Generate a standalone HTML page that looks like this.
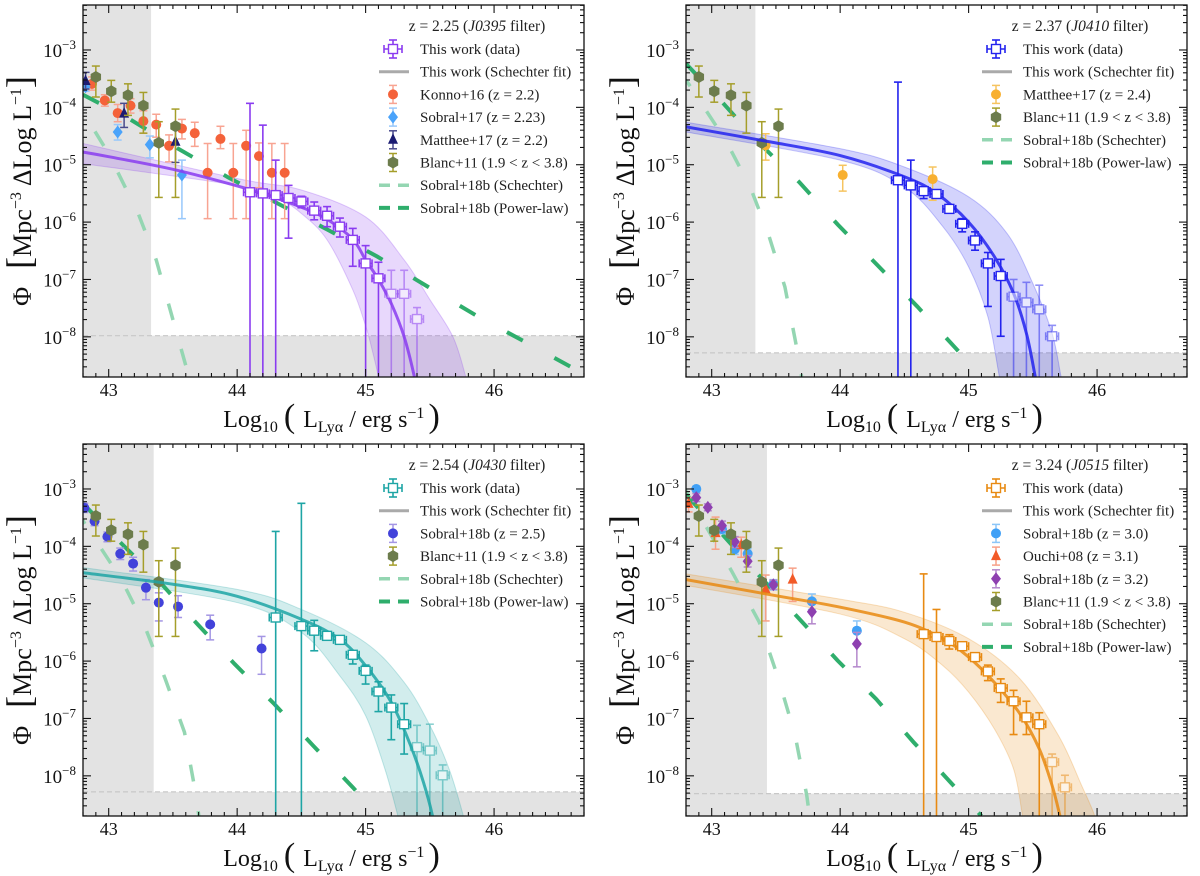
<!DOCTYPE html>
<html><head><meta charset="utf-8">
<style>
html,body{margin:0;padding:0;background:#fff;}
svg{display:block;font-family:"Liberation Serif",serif;}
</style></head>
<body>
<svg id="fig" width="1200" height="876" viewBox="0 0 1200 876" xmlns="http://www.w3.org/2000/svg"></svg>
<script>
// ---------- Data (log10 L, log10 Phi) ----------
// Panel 1 (z=2.25)
const p1SqL=[44.1,44.2,44.3,44.4,44.5,44.6,44.7,44.8,44.9,45.0,45.1,45.2,45.3,45.4];
const p1SqP=[-5.48,-5.50,-5.53,-5.58,-5.64,-5.80,-5.89,-6.08,-6.31,-6.72,-6.98,-7.25,-7.25,-7.69];
const p1SqHi=[-3.93,-4.31,-4.92,-5.36,-5.55,-5.65,-5.73,-5.93,-6.11,-6.41,-6.70,-6.84,-6.84,-7.49];
const p1SqLo=[null,null,null,-6.28,-5.75,-5.96,-6.08,-6.26,-6.77,null,null,null,null,null];
const p1FitL=[42.8,43.0,43.5,44.0,44.3,44.5,44.7,44.9,45.0,45.1,45.2,45.3,45.38,45.42];
const p1FitP=[-4.78,-4.86,-5.08,-5.37,-5.58,-5.74,-5.95,-6.30,-6.66,-7.0,-7.42,-8.0,-8.7,-9.2];
const p1BandUL=[42.8,44.0,44.5,45.0,45.3,45.5,45.68,45.78,45.82];
const p1BandUP=[-4.63,-5.24,-5.44,-5.91,-6.66,-7.35,-8.0,-8.7,-9.1];
const p1BandLL=[42.8,44.0,44.3,44.5,44.7,44.9,45.0,45.05,45.1,45.13];
const p1BandLP=[-4.98,-5.36,-5.56,-5.85,-6.31,-7.18,-7.81,-8.22,-8.7,-9.1];
const p1SchL=[42.72,42.8,43.0,43.23,43.37,43.6,43.66];
const p1SchP=[-3.7,-4.08,-4.81,-5.85,-6.66,-8.5,-9.0];
const p1PowL=[42.8,43.16,43.54,43.93,44.32,44.71,45.09,45.48,45.87,46.26,46.7];
const p1PowP=[-3.78,-4.20,-4.72,-5.22,-5.68,-6.14,-6.60,-7.12,-7.64,-8.11,-8.65];
const konnoL=[42.87,42.97,43.07,43.17,43.27,43.37,43.47,43.57,43.67,43.77,43.87,43.97,44.07,44.17,44.27,44.37];
const konnoP=[-3.59,-3.88,-4.10,-3.97,-4.24,-4.30,-4.67,-4.37,-4.45,-5.14,-4.55,-5.14,-4.67,-4.85,-5.14,-5.14];
const konnoHi=[-3.47,-3.78,-3.95,-3.85,-4.06,-4.12,-4.48,-4.21,-4.26,-4.63,-4.33,-4.63,-4.40,-4.62,-4.63,-4.63];
const konnoLo=[-3.70,-3.98,-4.25,-4.10,-4.45,-4.52,-4.95,-4.55,-4.68,-5.94,-4.72,-5.94,-5.94,-5.40,-5.94,-5.94];
const sob17L=[42.82,43.07,43.32,43.57];
const sob17P=[-3.64,-4.43,-4.65,-5.18];
const sob17Hi=[-3.56,-4.30,-4.50,-4.92];
const sob17Lo=[-3.72,-4.57,-4.88,-5.94];
const mat22L=[42.82,43.12,43.52];
const mat22P=[-3.54,-4.11,-4.60];
const mat22Hi=[-3.39,-3.93,-4.32];
const mat22Lo=[-3.68,-4.35,-4.96];
// Blanc+11 (shared)
const blancL=[42.9,43.02,43.15,43.27,43.39,43.52];
const blancP=[-3.47,-3.72,-3.79,-3.97,-4.62,-4.33];
const blancHi=[-3.28,-3.53,-3.59,-3.74,-4.25,-4.03];
const blancLo=[-3.82,-3.91,-4.14,-4.45,-5.57,-5.57];
// Panel 2 (z=2.37)
const p2SqL=[44.45,44.55,44.65,44.75,44.85,44.95,45.05,45.15,45.25,45.35,45.45,45.55,45.65];
const p2SqP=[-5.27,-5.36,-5.46,-5.51,-5.77,-6.03,-6.32,-6.72,-6.94,-7.30,-7.40,-7.52,-7.99];
const p2SqHi=[-3.56,-4.92,-5.39,-5.46,-5.70,-5.94,-6.17,-6.53,-6.65,-7.0,-7.05,-7.1,-7.8];
const p2SqLo=[null,null,-5.59,-5.56,-5.84,-6.17,-6.49,-7.47,-7.99,null,null,null,null];
const p2FitL=[42.8,43.4,44.0,44.5,44.75,45.0,45.2,45.35,45.45,45.52,45.56];
const p2FitP=[-4.34,-4.58,-4.84,-5.21,-5.50,-6.0,-6.6,-7.24,-7.94,-8.71,-9.2];
const p2BandUL=[42.8,44.0,44.5,45.0,45.3,45.5,45.65,45.72,45.76];
const p2BandUP=[-4.26,-4.72,-5.04,-5.56,-6.2,-7.07,-7.94,-8.7,-9.1];
const p2BandLL=[42.8,44.0,44.5,44.8,45.0,45.15,45.24,45.28];
const p2BandLP=[-4.43,-4.92,-5.39,-6.08,-6.78,-7.65,-8.7,-9.1];
const p2SchL=[42.75,42.82,43.11,43.30,43.44,43.57,43.68,43.72];
const p2SchP=[-3.4,-3.59,-4.58,-5.39,-6.20,-7.13,-8.40,-9.0];
const p2PowL=[42.8,43.07,43.35,43.68,43.98,44.29,44.60,44.90,45.1];
const p2PowP=[-3.24,-3.88,-4.58,-5.30,-6.04,-6.75,-7.47,-8.20,-8.7];
const mat24L=[43.42,44.02,44.72];
const mat24P=[-4.66,-5.18,-5.25];
const mat24Hi=[-4.46,-5.01,-5.04];
const mat24Lo=[-4.92,-5.46,-5.62];
// Panel 3 (z=2.54)
const p3SqL=[44.3,44.5,44.6,44.7,44.8,44.9,45.0,45.1,45.2,45.3,45.4,45.5,45.6];
const p3SqP=[-5.24,-5.39,-5.47,-5.56,-5.63,-5.89,-6.17,-6.53,-6.81,-7.10,-7.50,-7.56,-7.99];
const p3SqHi=[-3.74,-3.25,-5.29,-5.51,-5.58,-5.82,-6.07,-6.36,-6.59,-6.74,-7.12,-7.10,-7.81];
const p3SqLo=[null,null,-5.82,-5.61,-5.68,-6.05,-6.40,-6.88,-7.37,-7.62,null,null,null];
const p3FitL=[42.8,43.5,44.0,44.5,44.8,45.0,45.2,45.35,45.45,45.52,45.55];
const p3FitP=[-4.46,-4.66,-4.87,-5.27,-5.62,-6.08,-6.72,-7.47,-8.11,-8.69,-9.1];
const p3BandUL=[42.8,44.0,44.5,45.0,45.3,45.5,45.65,45.76,45.8];
const p3BandUP=[-4.37,-4.75,-5.1,-5.68,-6.37,-7.12,-7.88,-8.69,-9.1];
const p3BandLL=[42.8,44.0,44.5,44.8,45.0,45.15,45.25,45.29];
const p3BandLP=[-4.55,-4.98,-5.5,-6.26,-6.95,-7.88,-8.69,-9.1];
const p3SchL=[42.75,42.81,43.10,43.28,43.44,43.59,43.68,43.72];
const p3SchP=[-3.35,-3.59,-4.58,-5.39,-6.31,-7.24,-8.34,-9.0];
const p3PowL=[42.8,43.04,43.37,43.68,43.98,44.29,44.59,44.90,45.1];
const p3PowP=[-3.25,-3.82,-4.55,-5.33,-6.05,-6.75,-7.47,-8.20,-8.7];
const sob25L=[42.81,42.89,42.99,43.09,43.19,43.29,43.39,43.54,43.79,44.19];
const sob25P=[-3.33,-3.56,-3.83,-4.13,-4.30,-4.72,-4.98,-5.05,-5.36,-5.78];
const sob25Hi=[-3.25,-3.48,-3.75,-4.03,-4.19,-4.58,-4.81,-4.86,-5.20,-5.57];
const sob25Lo=[-3.41,-3.64,-3.92,-4.23,-4.43,-4.93,-5.30,-5.24,-5.63,-6.23];
// Panel 4 (z=3.24)
const p4SqL=[44.65,44.75,44.85,44.95,45.05,45.15,45.25,45.35,45.45,45.55,45.65,45.75];
const p4SqP=[-5.53,-5.58,-5.65,-5.74,-5.93,-6.18,-6.47,-6.70,-6.98,-7.10,-7.76,-8.20];
const p4SqHi=[-4.48,-5.10,-5.54,-5.69,-5.86,-6.07,-6.31,-6.51,-6.70,-6.90,-7.62,-7.99];
const p4SqLo=[null,null,-5.79,-5.79,-6.0,-6.34,-6.72,-7.28,-7.28,null,null,null];
const p4FitL=[42.8,43.5,44.0,44.5,44.8,45.0,45.2,45.4,45.55,45.65,45.71,45.75];
const p4FitP=[-4.58,-4.86,-5.06,-5.32,-5.61,-5.93,-6.37,-6.92,-7.53,-8.17,-8.69,-9.1];
const p4BandUL=[42.8,44.0,44.5,45.0,45.4,45.7,45.88,45.98,46.02];
const p4BandUP=[-4.48,-4.92,-5.15,-5.61,-6.31,-7.30,-8.17,-8.69,-9.1];
const p4BandLL=[42.8,44.0,44.5,44.8,45.0,45.2,45.35,45.42,45.46];
const p4BandLP=[-4.68,-5.18,-5.61,-6.08,-6.54,-7.18,-7.88,-8.69,-9.1];
const p4SchL=[42.78,42.82,43.16,43.37,43.52,43.65,43.74,43.78];
const p4SchP=[-2.95,-3.12,-4.45,-5.32,-6.31,-7.30,-8.34,-9.0];
const p4PowL=[42.8,43.01,43.37,43.68,43.98,44.28,44.57,44.87,45.1];
const p4PowP=[-3.1,-3.61,-4.51,-5.26,-5.99,-6.66,-7.41,-8.14,-8.7];
const sob30L=[42.88,43.08,43.18,43.28,43.48,43.78,44.13];
const sob30P=[-3.0,-3.70,-4.05,-4.13,-4.66,-4.96,-5.47];
const sob30Hi=[-2.95,-3.62,-3.95,-4.04,-4.58,-4.83,-5.30];
const sob30Lo=[-3.06,-3.78,-4.14,-4.24,-4.76,-5.10,-5.71];
const ouchiL=[42.82,43.03,43.23,43.42,43.63];
const ouchiP=[-3.26,-3.77,-3.98,-4.75,-4.58];
const ouchiHi=[-3.15,-3.49,-3.84,-4.50,-4.38];
const ouchiLo=[-3.40,-4.05,-4.19,-5.30,-4.96];
const sob32L=[42.88,42.97,43.08,43.18,43.28,43.48,43.78,44.13];
const sob32P=[-3.15,-3.32,-3.64,-3.92,-4.26,-4.67,-5.14,-5.70];
const sob32Hi=[-3.08,-3.26,-3.56,-3.83,-4.16,-4.59,-4.98,-5.50];
const sob32Lo=[-3.22,-3.38,-3.72,-4.02,-4.36,-4.75,-5.35,-6.10];

// ---------- Axes ----------
const X0=42.8, X1=46.7, Y0=-8.70, Y1=-2.216, W=501, H=372;
const NS="http://www.w3.org/2000/svg";
const svg=document.getElementById('fig');
function mk(tag,attrs,parent){const e=document.createElementNS(NS,tag);for(const k in attrs)e.setAttribute(k,attrs[k]);(parent||svg).appendChild(e);return e;}
function smooth(pts,start){
  let d=start?'M'+pts[0][0]+','+pts[0][1]:'L'+pts[0][0]+','+pts[0][1];
  for(let i=0;i<pts.length-1;i++){
    const p0=pts[Math.max(i-1,0)],p1=pts[i],p2=pts[i+1],p3=pts[Math.min(i+2,pts.length-1)];
    const c1x=p1[0]+(p2[0]-p0[0])/6,c1y=p1[1]+(p2[1]-p0[1])/6;
    const c2x=p2[0]-(p3[0]-p1[0])/6,c2y=p2[1]-(p3[1]-p1[1])/6;
    d+=' C'+c1x+','+c1y+' '+c2x+','+c2y+' '+p2[0]+','+p2[1];
  }
  return d;
}

function panel(cfg){
  const ox=cfg.ox, oy=cfg.oy;
  const sx=L=>ox+(L-X0)/(X1-X0)*W;
  const sy=P=>oy+(Y1-P)/(Y1-Y0)*H;
  const g=mk('g',{});
  
  
  const cid='clip'+cfg.id;
  const cp=mk('clipPath',{id:cid},g); mk('rect',{x:ox,y:oy,width:W,height:H},cp);
  const pg=mk('g',{'clip-path':'url(#'+cid+')'},g);
  const gv=mk('rect',{x:ox,y:oy,width:sx(cfg.lcut)-ox,height:H,fill:'#e3e3e3'},pg);
  
  
  const gh=mk('rect',{x:ox,y:sy(cfg.pcut),width:W,height:oy+H-sy(cfg.pcut),fill:'#e3e3e3'},pg);
  
  
  mk('line',{x1:ox,x2:ox+W,y1:sy(cfg.pcut),y2:sy(cfg.pcut),stroke:'#c8c8c8','stroke-width':1.2,'stroke-dasharray':'5 3'},pg);
  const up=cfg.bUL.map((L,i)=>[sx(L),sy(cfg.bUP[i])]);
  const lo=cfg.bLL.map((L,i)=>[sx(L),sy(cfg.bLP[i])]).reverse();
  const band=mk('path',{d:smooth(up,true)+' '+smooth(lo,false)+' Z',fill:cfg.color,'fill-opacity':0.2,stroke:cfg.color,'stroke-opacity':0.25,'stroke-width':1},pg);
  
  
  const sch=mk('polyline',{points:cfg.schL.map((L,i)=>sx(L)+','+sy(cfg.schP[i])).join(' '),fill:'none',stroke:'#94d6b2','stroke-width':3.5,'stroke-dasharray':'17 30'},pg);
  
  
  const pow=mk('polyline',{points:cfg.powL.map((L,i)=>sx(L)+','+sy(cfg.powP[i])).join(' '),fill:'none',stroke:'#2fae6c','stroke-width':4,'stroke-dasharray':'18 36'},pg);
  
  
  cfg.lit.forEach(s=>drawSeries(pg,s,sx,sy));
  const fit=mk('path',{d:smooth(cfg.fitL.map((L,i)=>[sx(L),sy(cfg.fitP[i])]),true),fill:'none',stroke:cfg.color,'stroke-width':3,'stroke-opacity':0.85,'stroke-linejoin':'round'},pg);
  
  
  cfg.sqL.forEach((L,i)=>{
    const faint=i>=cfg.faint;
    const sg=mk('g',{opacity:faint?0.5:1},pg);
    
    
    const x=sx(L), y=sy(cfg.sqP[i]);
    const yt=sy(cfg.sqHi[i]); const yb=cfg.sqLo[i]===null?oy+H+5:sy(cfg.sqLo[i]);
    mk('line',{x1:x,x2:x,y1:yt,y2:yb,stroke:cfg.color,'stroke-width':1.6},sg);
    mk('line',{x1:x-4,x2:x+4,y1:yt,y2:yt,stroke:cfg.color,'stroke-width':1.6},sg);
    if(cfg.sqLo[i]!==null) mk('line',{x1:x-4,x2:x+4,y1:yb,y2:yb,stroke:cfg.color,'stroke-width':1.6},sg);
    const xl=sx(L-0.05), xr=sx(L+0.05);
    mk('line',{x1:xl,x2:xr,y1:y,y2:y,stroke:cfg.color,'stroke-width':1.6},sg);
    mk('line',{x1:xl,x2:xl,y1:y-4,y2:y+4,stroke:cfg.color,'stroke-width':1.6},sg);
    mk('line',{x1:xr,x2:xr,y1:y-4,y2:y+4,stroke:cfg.color,'stroke-width':1.6},sg);
    mk('rect',{x:x-4.5,y:y-4.5,width:9,height:9,fill:'#fff',stroke:cfg.color,'stroke-width':1.4},sg);
  });
  mk('rect',{x:ox,y:oy,width:W,height:H,fill:'none',stroke:'#111','stroke-width':1.3},g);
  const tk=mk('g',{stroke:'#111','stroke-width':1.1},g);
  for(let t=428;t<=467;t++){const L=t/10;if(L<X0||L>X1)continue;const x=sx(L);const maj=t%10===0;const len=maj?8:4;
    mk('line',{x1:x,x2:x,y1:oy+H,y2:oy+H-len},tk);mk('line',{x1:x,x2:x,y1:oy,y2:oy+len},tk);}
  for(let e=-9;e<=-2;e++){for(let k=1;k<=9;k++){const P=e+Math.log10(k);if(P<Y0||P>Y1)continue;const y=sy(P);const len=k===1?8:4;
    mk('line',{x1:ox,x2:ox+len,y1:y,y2:y},tk);mk('line',{x1:ox+W,x2:ox+W-len,y1:y,y2:y},tk);}}
  const xTicks=[43,44,45,46];
  xTicks.forEach(v=>{const t=mk('text',{x:sx(v),y:oy+H+19,'text-anchor':'middle','font-size':18,fill:'#111'},g);t.textContent=v;
    });
  const yTicks=[-3,-4,-5,-6,-7,-8];
  yTicks.forEach(v=>{const t=mk('text',{x:ox-7,y:sy(v)+7,'text-anchor':'end','font-size':19,fill:'#111'},g);
    
    const a=mk('tspan',{},t);a.textContent='10';const b=mk('tspan',{dy:-8,'font-size':13},t);b.textContent='\u2212'+(-v);});
  const xt=mk('text',{x:ox+W/2-2,y:oy+H+50,'text-anchor':'middle','font-size':24,fill:'#111'},g);
  
  xt.innerHTML='Log<tspan font-size="16" dy="5">10</tspan><tspan dy="-5" font-size="34" dx="6">(</tspan><tspan dx="8">L</tspan><tspan font-size="16" dy="5">Ly\u03b1</tspan><tspan dy="-5"> / erg s</tspan><tspan font-size="16" dy="-9">\u22121</tspan><tspan dy="9" font-size="34" dx="4">)</tspan>';
  const yt=mk('text',{transform:'translate('+(ox-52)+','+(oy+186)+') rotate(-90)','text-anchor':'middle','font-size':26,fill:'#111'},g);
  
  yt.innerHTML='\u03a6<tspan font-size="36" dx="18">[</tspan>Mpc<tspan font-size="16" dy="-10">\u22123</tspan><tspan dy="10" dx="6">\u0394Log L</tspan><tspan font-size="16" dy="-10">\u22121</tspan><tspan dy="10" font-size="36">]</tspan>';
  const lg=mk('g',{},g);
  
  const tt=mk('text',{x:ox+394,y:oy+26,'text-anchor':'middle','font-size':15.5,fill:'#222'},lg);
  tt.innerHTML='z = '+cfg.z+' (<tspan font-style="italic">'+cfg.filt+'</tspan> filter)';
  cfg.legend.forEach((it,i)=>{
    const cy=oy+44+i*22.7; const mx=ox+310;
    const eg=mk('g',{},lg);
    
    if(it.type==='sq'){
      mk('line',{x1:mx,x2:mx,y1:cy-9,y2:cy+9,stroke:cfg.color,'stroke-width':1.6},eg);
      mk('line',{x1:mx-4,x2:mx+4,y1:cy-9,y2:cy-9,stroke:cfg.color,'stroke-width':1.6},eg);
      mk('line',{x1:mx-4,x2:mx+4,y1:cy+9,y2:cy+9,stroke:cfg.color,'stroke-width':1.6},eg);
      mk('line',{x1:mx-9,x2:mx+9,y1:cy,y2:cy,stroke:cfg.color,'stroke-width':1.6},eg);
      mk('line',{x1:mx-9,x2:mx-9,y1:cy-4,y2:cy+4,stroke:cfg.color,'stroke-width':1.6},eg);
      mk('line',{x1:mx+9,x2:mx+9,y1:cy-4,y2:cy+4,stroke:cfg.color,'stroke-width':1.6},eg);
      mk('rect',{x:mx-4.5,y:cy-4.5,width:9,height:9,fill:'#fff',stroke:cfg.color,'stroke-width':1.4},eg);
    } else if(it.type==='line'){
      mk('line',{x1:mx-14,x2:mx+16,y1:cy,y2:cy,stroke:it.color,'stroke-width':it.w||3,'stroke-dasharray':it.dash||'none'},eg);
    } else {
      mk('line',{x1:mx,x2:mx,y1:cy-9,y2:cy+9,stroke:it.ecolor,'stroke-width':1.5},eg);
      mk('line',{x1:mx-4,x2:mx+4,y1:cy-9,y2:cy-9,stroke:it.ecolor,'stroke-width':1.5},eg);
      mk('line',{x1:mx-4,x2:mx+4,y1:cy+9,y2:cy+9,stroke:it.ecolor,'stroke-width':1.5},eg);
      marker(eg,it.type,mx,cy,it.color);
    }
    const tx=mk('text',{x:ox+337,y:cy+5,'font-size':15,fill:'#222'},eg);tx.textContent=it.label;
  });
}
function marker(parent,type,x,y,c){
  if(type==='circle') return mk('circle',{cx:x,cy:y,r:5,fill:c},parent);
  if(type==='diamond') return mk('path',{d:`M${x},${y-6.5}L${x+5},${y}L${x},${y+6.5}L${x-5},${y}Z`,fill:c},parent);
  if(type==='tri') return mk('path',{d:`M${x},${y-6.5}L${x+5},${y+4}L${x-5},${y+4}Z`,fill:c},parent);
  if(type==='hex'){let d='';for(let k=0;k<6;k++){const a=Math.PI/3*k+Math.PI/6;d+=(k?'L':'M')+(x+6*Math.cos(a))+','+(y+6*Math.sin(a));}return mk('path',{d:d+'Z',fill:c},parent);}
}
function drawSeries(pg,s,sx,sy){
  s.L.forEach((L,i)=>{
    const g=mk('g',{},pg);
    
    
    const x=sx(L), y=sy(s.P[i]), yt=sy(s.Hi[i]), yb=sy(s.Lo[i]);
    mk('line',{x1:x,x2:x,y1:yt,y2:yb,stroke:s.ecolor,'stroke-width':1.5},g);
    mk('line',{x1:x-4,x2:x+4,y1:yt,y2:yt,stroke:s.ecolor,'stroke-width':1.5},g);
    mk('line',{x1:x-4,x2:x+4,y1:yb,y2:yb,stroke:s.ecolor,'stroke-width':1.5},g);
    marker(g,s.type,x,y,s.color);
  });
}
const blanc={name:'blanc11',L:blancL,P:blancP,Hi:blancHi,Lo:blancLo,type:'hex',color:'#6c7c4c',ecolor:'#a59e2a'};
const blancLeg={type:'hex',color:'#6c7c4c',ecolor:'#a59e2a',label:'Blanc+11 (1.9 < z < 3.8)'};
const schLeg={type:'line',color:'#94d6b2',w:3.5,dash:'11 8',label:'Sobral+18b (Schechter)'};
const powLeg={type:'line',color:'#2fae6c',w:4,dash:'11 8',label:'Sobral+18b (Power-law)'};
const fitLeg={type:'line',color:'#aaaaaa',w:3,label:'This work (Schechter fit)'};
const dataLeg={type:'sq',label:'This work (data)'};

panel({id:1,name:'panel-z2.25',ox:83,oy:5,color:'#8a3cf0',z:'2.25',filt:'J0395',lcut:43.33,pcut:-7.98,
  sqL:p1SqL,sqP:p1SqP,sqHi:p1SqHi,sqLo:p1SqLo,faint:11,fitL:p1FitL,fitP:p1FitP,
  bUL:p1BandUL,bUP:p1BandUP,bLL:p1BandLL,bLP:p1BandLP,schL:p1SchL,schP:p1SchP,powL:p1PowL,powP:p1PowP,
  lit:[{name:'konno16',L:konnoL,P:konnoP,Hi:konnoHi,Lo:konnoLo,type:'circle',color:'#f4623a',ecolor:'#f8a492'},
       {name:'sobral17',L:sob17L,P:sob17P,Hi:sob17Hi,Lo:sob17Lo,type:'diamond',color:'#4aa3fa',ecolor:'#98c8fb'},
       {name:'matthee17',L:mat22L,P:mat22P,Hi:mat22Hi,Lo:mat22Lo,type:'tri',color:'#1c1c72',ecolor:'#4a4a8c'},blanc],
  legend:[dataLeg,fitLeg,{type:'circle',color:'#f4623a',ecolor:'#f8a492',label:'Konno+16 (z = 2.2)'},
    {type:'diamond',color:'#4aa3fa',ecolor:'#98c8fb',label:'Sobral+17 (z = 2.23)'},
    {type:'tri',color:'#1c1c72',ecolor:'#4a4a8c',label:'Matthee+17 (z = 2.2)'},blancLeg,schLeg,powLeg]});
panel({id:2,name:'panel-z2.37',ox:686,oy:5,color:'#2323ee',z:'2.37',filt:'J0410',lcut:43.34,pcut:-8.28,
  sqL:p2SqL,sqP:p2SqP,sqHi:p2SqHi,sqLo:p2SqLo,faint:9,fitL:p2FitL,fitP:p2FitP,
  bUL:p2BandUL,bUP:p2BandUP,bLL:p2BandLL,bLP:p2BandLP,schL:p2SchL,schP:p2SchP,powL:p2PowL,powP:p2PowP,
  lit:[{name:'matthee17',L:mat24L,P:mat24P,Hi:mat24Hi,Lo:mat24Lo,type:'circle',color:'#f8b030',ecolor:'#f6c460'},blanc],
  legend:[dataLeg,fitLeg,{type:'circle',color:'#f8b030',ecolor:'#f6c460',label:'Matthee+17 (z = 2.4)'},blancLeg,schLeg,powLeg]});
panel({id:3,name:'panel-z2.54',ox:83,oy:444,color:'#1ea5a5',z:'2.54',filt:'J0430',lcut:43.35,pcut:-8.28,
  sqL:p3SqL,sqP:p3SqP,sqHi:p3SqHi,sqLo:p3SqLo,faint:10,fitL:p3FitL,fitP:p3FitP,
  bUL:p3BandUL,bUP:p3BandUP,bLL:p3BandLL,bLP:p3BandLP,schL:p3SchL,schP:p3SchP,powL:p3PowL,powP:p3PowP,
  lit:[{name:'sobral18b-z2.5',L:sob25L,P:sob25P,Hi:sob25Hi,Lo:sob25Lo,type:'circle',color:'#4242da',ecolor:'#a496e4'},blanc],
  legend:[dataLeg,fitLeg,{type:'circle',color:'#4242da',ecolor:'#a496e4',label:'Sobral+18b (z = 2.5)'},blancLeg,schLeg,powLeg]});
panel({id:4,name:'panel-z3.24',ox:686,oy:444,color:'#e88a12',z:'3.24',filt:'J0515',lcut:43.43,pcut:-8.31,
  sqL:p4SqL,sqP:p4SqP,sqHi:p4SqHi,sqLo:p4SqLo,faint:10,fitL:p4FitL,fitP:p4FitP,
  bUL:p4BandUL,bUP:p4BandUP,bLL:p4BandLL,bLP:p4BandLP,schL:p4SchL,schP:p4SchP,powL:p4PowL,powP:p4PowP,
  lit:[{name:'sobral18b-z3.0',L:sob30L,P:sob30P,Hi:sob30Hi,Lo:sob30Lo,type:'circle',color:'#40a0f6',ecolor:'#8cc6f8'},
       {name:'ouchi08',L:ouchiL,P:ouchiP,Hi:ouchiHi,Lo:ouchiLo,type:'tri',color:'#f25a28',ecolor:'#f7a188'},
       {name:'sobral18b-z3.2',L:sob32L,P:sob32P,Hi:sob32Hi,Lo:sob32Lo,type:'diamond',color:'#8e40b0',ecolor:'#b488cc'},blanc],
  legend:[dataLeg,fitLeg,{type:'circle',color:'#40a0f6',ecolor:'#8cc6f8',label:'Sobral+18b (z = 3.0)'},
    {type:'tri',color:'#f25a28',ecolor:'#f7a188',label:'Ouchi+08 (z = 3.1)'},
    {type:'diamond',color:'#8e40b0',ecolor:'#b488cc',label:'Sobral+18b (z = 3.2)'},blancLeg,schLeg,powLeg]});
</script>
</body></html>
